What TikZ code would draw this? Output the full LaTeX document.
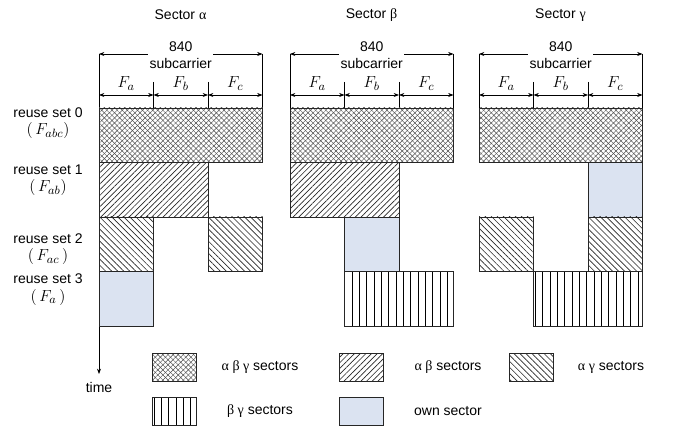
\documentclass[tikz,border=0pt]{standalone}
\usepackage{fontspec}
\setmainfont{Liberation Sans}
\newfontfamily\grk{Liberation Serif}
\usepackage{xcolor}
\usetikzlibrary{arrows.meta,positioning,patterns.meta}
\definecolor{ownblue}{RGB}{219,227,241}

\begin{document}
\begin{tikzpicture}[x=0.75pt,y=-0.75pt,font=\fontsize{10.5}{12.5}\selectfont,>={Stealth[length=4pt,width=3pt]},
  blk/.style={draw=black!85,line width=.6pt},
  abg/.style={blk,preaction={pattern={Lines[angle=45,distance=2.7pt,line width=.35pt]},pattern color=black!70},
    preaction={pattern={Lines[angle=-45,distance=2.7pt,line width=.35pt]},pattern color=black!70}},
  ab/.style={blk,preaction={pattern={Lines[angle=45,distance=3pt,line width=.5pt]},pattern color=black!85}},
  ag/.style={blk,preaction={pattern={Lines[angle=-45,distance=3.2pt,line width=.5pt]},pattern color=black!85}},
  bg/.style={blk,preaction={pattern={Lines[angle=90,distance=5.5pt,line width=.5pt]},pattern color=black}},
  own/.style={blk,fill=ownblue},
  dim/.style={<->,line width=.5pt},
  lbl/.style={align=center,inner sep=1pt},
  fm/.style={font=\fontsize{12.5}{14}\selectfont},
  key/.style={minimum width=33pt,minimum height=21pt,inner sep=0pt}]
\useasboundingbox (0,0) rectangle (679,431);
% sector headers and dimension arrows
\foreach \s/\l/\g in {a/99/α,b/290/β,c/479/γ}{
  \node (\s h) at (\l+81.5,15) {Sector {\grk \g}};
  \coordinate (\s t0) at (\l,54); \coordinate (\s t3) at (\l+163.5,54);
  \coordinate (\s b0) at (\l,108); \coordinate (\s b3) at (\l+163.5,108);
  \coordinate (\s d1) at (\l+54.5,82); \coordinate (\s e1) at (\l+54.5,108);
  \coordinate (\s d2) at (\l+109,82); \coordinate (\s e2) at (\l+109,108);
  \coordinate (\s m0) at (\l,95); \coordinate (\s m1) at (\l+54.5,95);
  \coordinate (\s m2) at (\l+109,95); \coordinate (\s m3) at (\l+163.5,95);
  \draw[line width=.5pt] (\s t0) -- (\s b0) (\s t3) -- (\s b3) (\s d1) -- (\s e1) (\s d2) -- (\s e2);
  \draw[dim] (\s t0) -- node[lbl,fill=white,yshift=-1pt] (\s n) {840\\subcarrier} (\s t3);
  \draw[dim] (\s m0) -- node[fm,above=0pt] (\s fa) {$F_a$} (\s m1);
  \draw[dim] (\s m1) -- node[fm,above=0pt] (\s fb) {$F_b$} (\s m2);
  \draw[dim] (\s m2) -- node[fm,above=0pt] (\s fc) {$F_c$} (\s m3);
}
% time axis
\coordinate (tend) at (99,374);
\draw[->,line width=.5pt] (at0) -- (tend);
\node (tm) at (99,387) {time};
% sector alpha
\path[abg] (99,108) rectangle (262.5,162.5);
\path[ab] (99,162.5) rectangle (208,217);
\path[ag] (99,217) rectangle (153.5,271.5);
\path[ag] (208,217) rectangle (262.5,271.5);
\path[own] (99,271.5) rectangle (153.5,326);
% sector beta
\path[abg] (290,108) rectangle (453.5,162.5);
\path[ab] (290,162.5) rectangle (399,217);
\path[own] (344.5,217) rectangle (399,271.5);
\path[bg] (344.5,271.5) rectangle (453.5,326);
% sector gamma
\path[abg] (479,108) rectangle (642.5,162.5);
\path[own] (588,162.5) rectangle (642.5,217);
\path[ag] (479,217) rectangle (533.5,271.5);
\path[ag] (588,217) rectangle (642.5,271.5);
\path[bg] (533.5,271.5) rectangle (642.5,326);
% reuse sets
\node (r0) at (48,113) {reuse set 0};
\node[fm] (f0) at (48,131) {$(\,F_{abc})$};
\node (r1) at (48,170) {reuse set 1};
\node[fm] (f1) at (48,188) {$(\,F_{ab})$};
\node (r2) at (48,239) {reuse set 2};
\node[fm] (f2) at (48,257) {$(\,F_{ac}\,)$};
\node (r3) at (48,279) {reuse set 3};
\node[fm] (f3) at (48,297) {$(\,F_{a}\,)$};
% legend
\node[key,abg] (k1) at (174,367) {};
\node (t1) at (260,367) {{\grk α β γ} sectors};
\node[key,ab] (k2) at (361,367) {};
\node (t2) at (448,367) {{\grk α β} sectors};
\node[key,ag] (k3) at (531.5,367) {};
\node (t3) at (611,367) {{\grk α γ} sectors};
\node[key,bg] (k4) at (174,411) {};
\node (t4) at (260,411) {{\grk β γ} sectors};
\node[key,own] (k5) at (361,411) {};
\node (t5) at (448,411) {own sector};
\end{tikzpicture}
\end{document}
